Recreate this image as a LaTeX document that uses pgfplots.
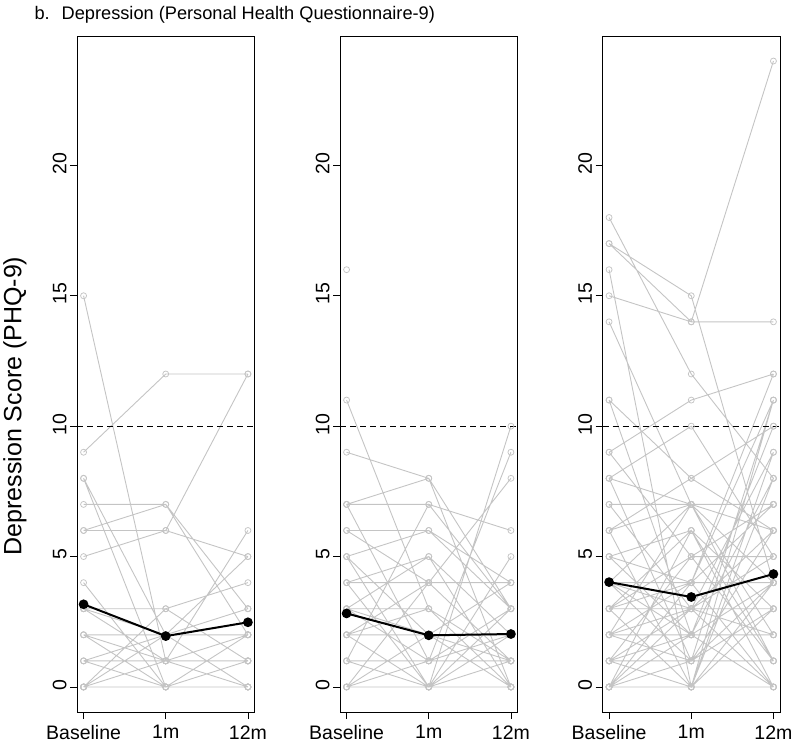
\documentclass[border=0pt]{standalone}
\usepackage{pgfplots}
\pgfplotsset{compat=1.18}
\usepackage{fontspec}
\setmainfont{Liberation Sans}
\definecolor{lg}{RGB}{196,196,196}
\pgfplotsset{
 panel/.style={
  scale only axis, width=177.5pt, height=676pt,
  xmin=-0.08, xmax=2.08, ymin=-0.96, ymax=24.96,
  xtick={0,1,2}, xticklabels={Baseline,1m,12m},
  ytick={0,5,10,15,20},
  tick align=outside, xtick pos=bottom, ytick pos=left,
  major tick length=7pt,
  tick style={black, line width=0.8pt},
  axis line style={line width=0.8pt},
  ticklabel style={font=\fontsize{19.5}{21}\selectfont},
  xticklabel style={yshift=-3pt},
  yticklabel style={rotate=90, anchor=south, xshift=2pt},
  /pgf/number format/assume math mode=true,
  unbounded coords=jump,
  anchor=south west,
 },
 subj/.style={lg, line width=0.9pt, mark=o, mark size=3pt, mark options={lg, line width=0.75pt, solid}},
 meanl/.style={black, line width=2pt, mark=*, mark size=3.8pt},
 ref/.style={black, line width=0.9pt, dash pattern=on 6pt off 4pt},
}
\begin{document}
\begin{tikzpicture}
\path[use as bounding box] (0pt,0pt) rectangle (800pt,748pt);
\node[anchor=west, font=\fontsize{18.2}{20}\selectfont] at (31pt,733pt) {b.\hspace{12pt}Depression (Personal Health Questionnaire-9)};
\node[rotate=90, font=\fontsize{25}{28}\selectfont] at (15pt,342pt) {Depression Score (PHQ-9)};

% Panel 1
\begin{axis}[panel, at={(77pt,36pt)}]
\addplot[subj] table {
x y
0 15
1 1
2 0
nan nan
0 9
1 12
2 12
nan nan
0 8
1 0
2 1
nan nan
0 8
1 2
2 3
nan nan
0 7
1 7
2 3
nan nan
0 6
1 7
2 2
nan nan
0 5
1 6
2 12
nan nan
0 6
1 6
2 5
nan nan
0 4
1 0
2 0
nan nan
0 3
1 3
2 4
nan nan
0 3
1 1
2 6
nan nan
0 3
1 2
2 5
nan nan
0 2
1 2
2 2
nan nan
0 2
1 0
2 1
nan nan
0 2
1 1
2 0
nan nan
0 1
1 2
2 3
nan nan
0 1
1 1
2 1
nan nan
0 1
1 0
2 2
nan nan
0 0
1 2
2 0
nan nan
0 0
1 0
2 0
nan nan
0 0
1 1
2 2
nan nan
0 3
1 2
2 2
nan nan
0 0
1 3
2 1
nan nan
0 0
1 0
2 1
nan nan
0 0
1 1
2 0
nan nan
0 0
1 2
2 2
};
\addplot[ref] coordinates {(-0.08,10) (2.08,10)};
\addplot[meanl] coordinates {(0,3.17) (1,1.95) (2,2.48)};
\end{axis}

% Panel 2
\begin{axis}[panel, at={(340pt,36pt)}]
\addplot[subj] table {
x y
0 16
nan nan
0 11
1 3
2 0
nan nan
0 9
1 8
2 3
nan nan
0 7
1 8
2 0
nan nan
0 7
1 7
2 6
nan nan
0 7
1 1
2 2
nan nan
0 6
1 6
2 4
nan nan
0 6
1 4
2 1
nan nan
0 5
1 6
2 3
nan nan
0 5
1 0
2 2
nan nan
0 4
1 5
2 0
nan nan
0 4
1 4
2 4
nan nan
0 4
1 0
2 1
nan nan
0 3
1 2
2 4
nan nan
0 3
1 1
2 3
nan nan
0 3
1 3
2 0
nan nan
0 2
1 2
2 2
nan nan
0 2
1 0
2 5
nan nan
0 2
1 3
2 1
nan nan
0 1
1 1
2 1
nan nan
0 1
1 0
2 3
nan nan
0 0
1 0
2 10
nan nan
0 0
1 1
2 9
nan nan
0 0
1 4
2 8
nan nan
0 0
1 0
2 0
nan nan
0 0
1 2
2 0
nan nan
0 1
1 7
2 3
nan nan
0 5
1 2
2 1
nan nan
0 3
1 5
2 2
nan nan
0 2
1 4
2 1
};
\addplot[ref] coordinates {(-0.08,10) (2.08,10)};
\addplot[meanl] coordinates {(0,2.82) (1,1.98) (2,2.03)};
\end{axis}

% Panel 3
\begin{axis}[panel, at={(602.5pt,36pt)}]
\addplot[subj] table {
x y
0 18
1 12
2 8
nan nan
0 17
1 15
2 4
nan nan
0 17
1 14
2 14
nan nan
0 16
1 0
2 3
nan nan
0 15
1 14
2 24
nan nan
0 14
1 7
2 2
nan nan
0 11
1 8
2 10
nan nan
0 11
1 2
2 0
nan nan
0 9
1 11
2 12
nan nan
0 9
1 5
2 1
nan nan
0 8
1 10
2 5
nan nan
0 8
1 1
2 6
nan nan
0 7
1 7
2 7
nan nan
0 7
1 3
2 0
nan nan
0 6
1 7
2 4
nan nan
0 6
1 0
2 11
nan nan
0 5
1 6
2 3
nan nan
0 5
1 2
2 8
nan nan
0 4
1 4
2 4
nan nan
0 4
1 7
2 1
nan nan
0 4
1 1
2 11
nan nan
0 4
1 3
2 6
nan nan
0 3
1 3
2 3
nan nan
0 3
1 6
2 0
nan nan
0 3
1 0
2 9
nan nan
0 3
1 5
2 5
nan nan
0 2
1 2
2 2
nan nan
0 2
1 7
2 6
nan nan
0 2
1 4
2 11
nan nan
0 2
1 1
2 4
nan nan
0 1
1 1
2 1
nan nan
0 1
1 5
2 7
nan nan
0 1
1 0
2 8
nan nan
0 1
1 3
2 5
nan nan
0 0
1 0
2 0
nan nan
0 0
1 2
2 10
nan nan
0 0
1 1
2 3
nan nan
0 0
1 6
2 1
nan nan
0 0
1 4
2 7
nan nan
0 0
1 3
2 2
nan nan
0 5
1 4
2 12
nan nan
0 6
1 8
2 6
nan nan
0 4
1 2
2 4
nan nan
0 3
1 4
2 0
nan nan
0 2
1 3
2 9
nan nan
0 1
1 2
2 2
nan nan
0 0
1 0
2 4
nan nan
0 8
1 7
2 7
};
\addplot[ref] coordinates {(-0.08,10) (2.08,10)};
\addplot[meanl] coordinates {(0,4.02) (1,3.45) (2,4.33)};
\end{axis}
\end{tikzpicture}
\end{document}
